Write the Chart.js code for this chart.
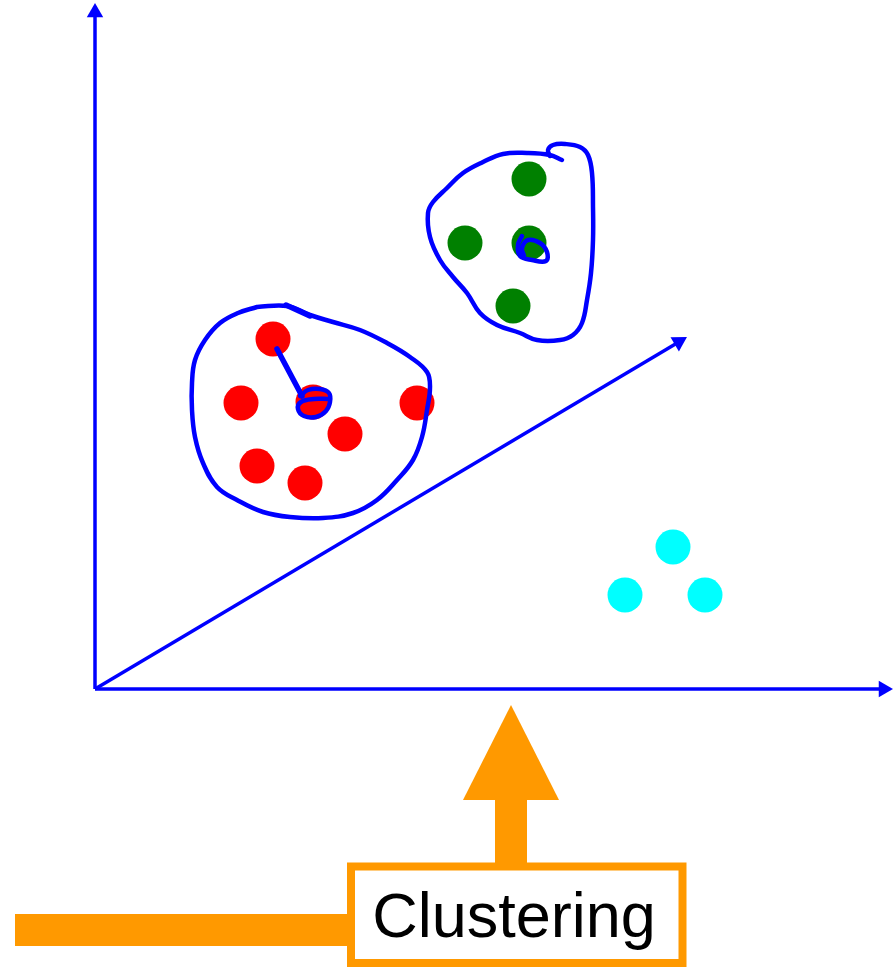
<!DOCTYPE html>
<html>
<head>
<meta charset="utf-8">
<script src="https://cdn.jsdelivr.net/npm/chart.js@4.4.1/dist/chart.umd.min.js"></script>
<style>
  html, body { margin: 0; padding: 0; background: #ffffff; }
  #wrap { width: 893px; height: 967px; }
</style>
</head>
<body>
<div id="wrap"><canvas id="c" width="893" height="967"></canvas></div>
<script>
// ---- data (data units: origin of the drawn axes at 0,0) ----
const redPoints = [
  {x:178,y:350},{x:146,y:286},{x:218,y:287},{x:322,y:286},
  {x:250,y:255},{x:162,y:223},{x:210,y:206}
];
const greenPoints = [
  {x:434,y:510},{x:370,y:446},{x:434,y:446},{x:418,y:383}
];
const cyanPoints = [
  {x:578,y:142},{x:530,y:94},{x:610,y:94}
];

// hand-drawn outlines
const redOutline = [
  {x:162,y:382},{x:192,y:383},{x:215,y:374},{x:238,y:367},{x:265,y:359},
  {x:292,y:346},{x:315,y:332},{x:332,y:317},{x:335,y:302},{x:332,y:279},
  {x:327,y:252},{x:318,y:229},{x:302,y:209},{x:282,y:189},{x:258,y:176},
  {x:228,y:171},{x:195,y:172},{x:168,y:177},{x:142,y:189},{x:122,y:202},
  {x:108,y:226},{x:100,y:252},{x:97,y:279},{x:97,y:306},{x:100,y:329},
  {x:110,y:349},{x:125,y:366},{x:143,y:376},{x:162,y:382}
];
const redTopStroke = [{x:191,y:384},{x:215,y:373}];
const redLink = [{x:182,y:340},{x:207,y:293}];
const redCentreLoop = [
  {x:205,y:293},{x:213,y:299},{x:225,y:300},{x:234,y:296},{x:235,y:287},
  {x:231,y:278},{x:221,y:272},{x:209,y:273},{x:203,y:280},{x:206,y:287},
  {x:219,y:290},{x:233,y:290}
];
const greenOutline = [
  {x:455,y:533},{x:453,y:539},{x:458,y:544},{x:470,y:545},{x:485,y:542},
  {x:493,y:534},{x:497,y:516},{x:498,y:482},{x:498,y:449},{x:496,y:416},
  {x:492,y:389},{x:487,y:366},{x:478,y:354},{x:465,y:349},{x:442,y:349},
  {x:425,y:356},{x:402,y:364},{x:385,y:376},{x:372,y:396},{x:358,y:412},
  {x:345,y:429},{x:335,y:452},{x:333,y:476},{x:338,y:487},{x:352,y:501},
  {x:368,y:516},{x:388,y:527},{x:408,y:535},{x:432,y:536},{x:455,y:534},
  {x:467,y:529}
];
const greenCentreLoop = [
  {x:427,y:453},{x:423,y:444},{x:425,y:433},{x:437,y:429},{x:451,y:428},
  {x:452,y:437},{x:445,y:446},{x:433,y:449},{x:427,y:441},{x:429,y:433}
];

// axes (arrow lines)
const yAxisLine = [{x:0,y:0},{x:0,y:676.5}];
const xAxisLine = [{x:0,y:0},{x:788.5,y:0}];
const zAxisLine = [{x:0,y:0},{x:583.8,y:347.1}];

// "Clustering" callout (data units)
const calloutLabel = "Clustering";
const calloutArrow = { tipX:416, tipY:-16, headBaseY:-111, headHalf:48, shaftHalf:16, shaftBottomY:-174 };
const calloutBox = { x0:256, x1:587.5, y0:-177.5, y1:-274 };
const calloutBar = { x0:-80, x1:256, yTop:-225, yBottom:-257 };
const calloutText = { x:419, y:-248 };

// ---- chart ----
const BLUE = '#0000ff';
const ORANGE = '#ff9900';

function strokeSet(data, width) {
  return {
    type: 'scatter', data, showLine: true, borderColor: BLUE, borderWidth: width,
    pointRadius: 0, tension: 0.4, fill: false, order: 1,
    borderCapStyle: 'round', borderJoinStyle: 'round'
  };
}
function arrowSet(data, rot) {
  return {
    type: 'scatter', data, showLine: true, borderColor: BLUE, borderWidth: 3.5,
    pointRadius: [0, 9.5], pointStyle: 'triangle', pointRotation: [0, rot],
    pointBackgroundColor: BLUE, pointBorderWidth: 0, pointBorderColor: BLUE,
    tension: 0, fill: false, order: 2
  };
}
function dotSet(data, color) {
  return {
    type: 'scatter', data, backgroundColor: color, borderWidth: 0,
    pointRadius: 17.5, pointStyle: 'circle', order: 5
  };
}

const calloutPlugin = {
  id: 'callout',
  afterDatasetsDraw(chart) {
    const ctx = chart.ctx, sx = chart.scales.x, sy = chart.scales.y;
    const X = v => sx.getPixelForValue(v), Y = v => sy.getPixelForValue(v);
    ctx.save();
    ctx.fillStyle = ORANGE;
    ctx.fillRect(X(calloutBar.x0), Y(calloutBar.yTop), X(calloutBar.x1) - X(calloutBar.x0), Y(calloutBar.yBottom) - Y(calloutBar.yTop));
    const a = calloutArrow;
    ctx.fillRect(X(a.tipX - a.shaftHalf), Y(a.headBaseY) - 1, X(a.tipX + a.shaftHalf) - X(a.tipX - a.shaftHalf), Y(a.shaftBottomY) - Y(a.headBaseY) + 2);
    ctx.beginPath();
    ctx.moveTo(X(a.tipX), Y(a.tipY));
    ctx.lineTo(X(a.tipX + a.headHalf), Y(a.headBaseY));
    ctx.lineTo(X(a.tipX - a.headHalf), Y(a.headBaseY));
    ctx.closePath();
    ctx.fill();
    const b = calloutBox;
    ctx.fillStyle = '#ffffff';
    ctx.fillRect(X(b.x0), Y(b.y0), X(b.x1) - X(b.x0), Y(b.y1) - Y(b.y0));
    ctx.strokeStyle = ORANGE;
    ctx.lineWidth = 8;
    ctx.strokeRect(X(b.x0), Y(b.y0), X(b.x1) - X(b.x0), Y(b.y1) - Y(b.y0));
    ctx.fillStyle = '#000000';
    ctx.font = '63px "Liberation Sans", Arial, sans-serif';
    ctx.textAlign = 'center';
    ctx.textBaseline = 'alphabetic';
    ctx.fillText(calloutLabel, X(calloutText.x), Y(calloutText.y));
    ctx.restore();
  }
};

new Chart(document.getElementById('c'), {
  type: 'scatter',
  data: {
    datasets: [
      strokeSet(redOutline, 4.5),
      strokeSet(redTopStroke, 5.5),
      strokeSet(redLink, 5.5),
      strokeSet(redCentreLoop, 4.5),
      strokeSet(greenOutline, 4.5),
      strokeSet(greenCentreLoop, 4.5),
      arrowSet(yAxisLine, 0),
      arrowSet(xAxisLine, 90),
      arrowSet(zAxisLine, 59.3),
      dotSet(redPoints, '#ff0000'),
      dotSet(greenPoints, '#008000'),
      dotSet(cyanPoints, '#00ffff')
    ]
  },
  options: {
    responsive: false,
    animation: false,
    events: [],
    layout: { padding: 0, autoPadding: false },
    plugins: { legend: { display: false }, tooltip: { enabled: false } },
    scales: {
      x: { type: 'linear', min: -95, max: 798, display: false },
      y: { type: 'linear', min: -278, max: 689, display: false }
    }
  },
  plugins: [calloutPlugin]
});
</script>
</body>
</html>
